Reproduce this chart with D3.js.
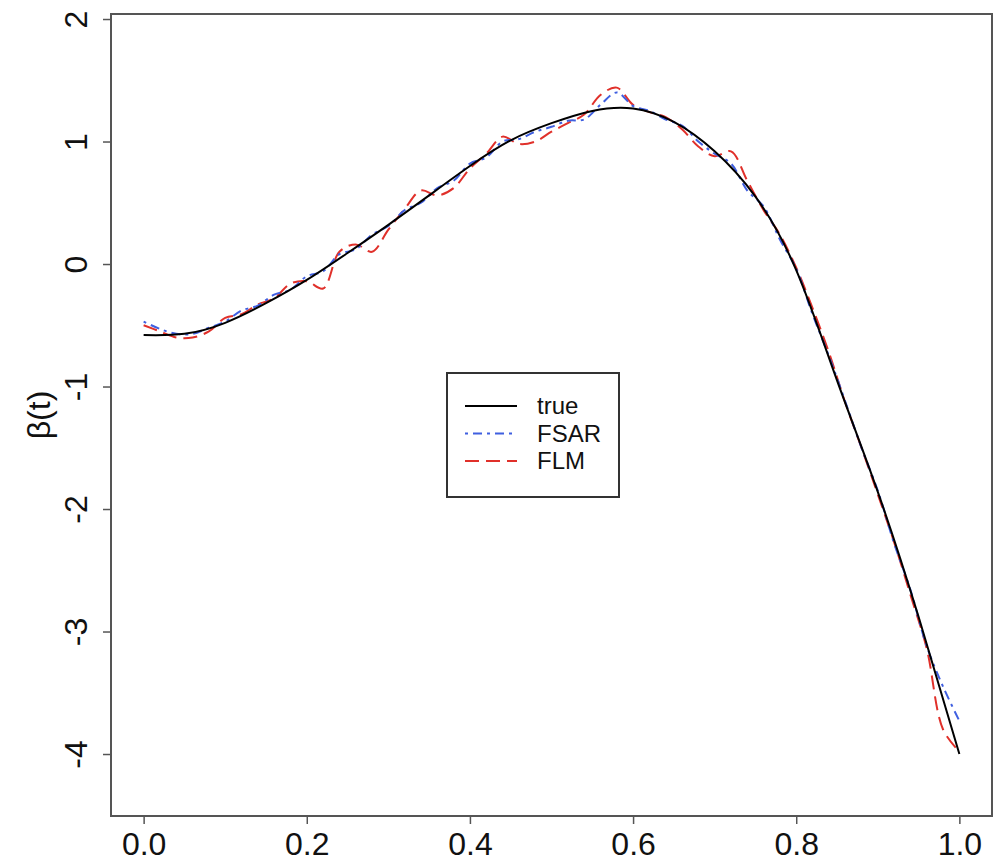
<!DOCTYPE html>
<html>
<head>
<meta charset="utf-8">
<script src="https://cdn.jsdelivr.net/npm/d3@7"></script>
<style>
  body { margin: 0; background: #fff; }
  svg { display: block; font-family: "Liberation Sans", Arial, sans-serif; }
</style>
</head>
<body>
<div id="chart"></div>
<script>
// true beta(t) at step 0.05
let tTrue = [0, 0.05, 0.10, 0.15, 0.20, 0.25, 0.30, 0.35, 0.40, 0.45, 0.50,
             0.55, 0.60, 0.65, 0.70, 0.75, 0.80, 0.85, 0.90, 0.95, 1.00];
let trueVals = [-0.58, -0.57, -0.48, -0.32, -0.13, 0.09, 0.32, 0.56, 0.80, 1.01, 1.15,
                1.25, 1.27, 1.16, 0.92, 0.55, -0.05, -0.95, -1.86, -2.88, -4.00];

// estimates, step 0.02
let tEst = [0, 0.02, 0.04, 0.06, 0.08, 0.10, 0.12, 0.14, 0.16, 0.18, 0.20,
            0.22, 0.24, 0.26, 0.28, 0.30, 0.32, 0.34, 0.36, 0.38, 0.40,
            0.42, 0.44, 0.46, 0.48, 0.50, 0.52, 0.54, 0.56, 0.58, 0.60,
            0.62, 0.64, 0.66, 0.68, 0.70, 0.72, 0.74, 0.76, 0.78, 0.80,
            0.82, 0.84, 0.86, 0.88, 0.90, 0.92, 0.94, 0.96, 0.98, 1.00];
let fsarVals = [-0.47, -0.53, -0.57, -0.57, -0.52, -0.47, -0.38, -0.34, -0.25, -0.21, -0.10,
                -0.06, 0.08, 0.12, 0.24, 0.31, 0.44, 0.50, 0.62, 0.68, 0.82,
                0.87, 1.00, 1.02, 1.08, 1.12, 1.17, 1.18, 1.30, 1.40, 1.29,
                1.25, 1.18, 1.13, 1.00, 0.90, 0.82, 0.60, 0.47, 0.20, -0.04,
                -0.41, -0.75, -1.12, -1.50, -1.85, -2.28, -2.66, -3.12, -3.45, -3.73];
let flmVals = [-0.50, -0.55, -0.60, -0.60, -0.55, -0.44, -0.41, -0.33, -0.28, -0.16, -0.14,
               -0.20, 0.10, 0.16, 0.10, 0.28, 0.45, 0.60, 0.56, 0.62, 0.78,
               0.90, 1.04, 0.98, 1.00, 1.08, 1.15, 1.22, 1.38, 1.44, 1.30,
               1.24, 1.20, 1.10, 0.96, 0.88, 0.92, 0.68, 0.44, 0.24, -0.03,
               -0.36, -0.72, -1.13, -1.50, -1.88, -2.27, -2.70, -3.14, -3.80, -3.98];

let xTicks = [0, 0.2, 0.4, 0.6, 0.8, 1.0];
let yTicks = [-4, -3, -2, -1, 0, 1, 2];

let seriesNames = ["true", "FSAR", "FLM"];
let seriesColors = ["#000000", "#3f5fe0", "#e0302a"];
let seriesDash = [null, "3,5,9,5", "14,7"];

let width = 1002, height = 868;
let plot = {left: 111, right: 992, top: 14, bottom: 816};

let svg = d3.select("#chart").append("svg")
    .attr("width", width)
    .attr("height", height);

svg.append("rect").attr("width", width).attr("height", height).attr("fill", "#fff");

let xScale = d3.scaleLinear().domain([-0.04, 1.04]).range([plot.left, plot.right]);
let yScale = d3.scaleLinear().domain([-4.506, 2.041]).range([plot.bottom, plot.top]);

// axes (R style: hyphen minus, labels parallel to the axis)
let xAxis = svg.append("g")
    .attr("transform", "translate(0," + plot.bottom + ")")
    .call(d3.axisBottom(xScale).tickValues(xTicks).tickFormat(d => d.toFixed(1)).tickSize(8).tickPadding(8));
xAxis.select(".domain").remove();
xAxis.selectAll("line").attr("stroke", "#555").attr("stroke-width", 1.5);
xAxis.selectAll("text").attr("font-size", 32).attr("fill", "#111")
    .attr("font-family", "Liberation Sans, Arial, sans-serif");

let yAxis = svg.append("g")
    .attr("transform", "translate(" + plot.left + ",0)")
    .call(d3.axisLeft(yScale).tickValues(yTicks).tickFormat(d => String(d)).tickSize(8));
yAxis.select(".domain").remove();
yAxis.selectAll("line").attr("stroke", "#555").attr("stroke-width", 1.5);
yAxis.selectAll("text")
    .attr("font-size", 32).attr("fill", "#111")
    .attr("font-family", "Liberation Sans, Arial, sans-serif")
    .attr("text-anchor", "middle")
    .attr("x", 0).attr("dy", 0)
    .attr("transform", "translate(-24,0) rotate(-90)");

svg.append("text")
    .attr("transform", "translate(50," + ((plot.top + plot.bottom) / 2) + ") rotate(-90)")
    .attr("text-anchor", "middle")
    .attr("font-size", 32)
    .attr("fill", "#111")
    .text("β(t)");

// curves
let wiggly = d3.line()
    .x(d => xScale(d[0]))
    .y(d => yScale(d[1]))
    .curve(d3.curveCatmullRom);
let smooth = d3.line()
    .x(d => xScale(d[0]))
    .y(d => yScale(d[1]))
    .curve(d3.curveNatural);

let series = [
    d3.zip(tTrue, trueVals),
    d3.zip(tEst, fsarVals),
    d3.zip(tEst, flmVals)
];

let drawOrder = [2, 1, 0];
drawOrder.forEach(i => {
    svg.append("path")
        .datum(series[i])
        .attr("fill", "none")
        .attr("stroke", seriesColors[i])
        .attr("stroke-width", 2)
        .attr("stroke-dasharray", seriesDash[i])
        .attr("d", i == 0 ? smooth : wiggly);
});

// box
svg.append("rect")
    .attr("x", plot.left).attr("y", plot.top)
    .attr("width", plot.right - plot.left).attr("height", plot.bottom - plot.top)
    .attr("fill", "none").attr("stroke", "#555").attr("stroke-width", 2);

// legend
let legend = svg.append("g");
legend.append("rect")
    .attr("x", 447).attr("y", 373).attr("width", 172).attr("height", 124)
    .attr("fill", "#fff").attr("stroke", "#333").attr("stroke-width", 2);

seriesNames.forEach((name, i) => {
    let yy = 406 + i * 27.5;
    legend.append("line")
        .attr("x1", 465).attr("x2", 517).attr("y1", yy).attr("y2", yy)
        .attr("stroke", seriesColors[i]).attr("stroke-width", 2)
        .attr("stroke-dasharray", seriesDash[i]);
    legend.append("text")
        .attr("x", 537).attr("y", yy).attr("dy", "0.35em")
        .attr("font-size", 24).attr("fill", "#111")
        .text(name);
});
</script>
</body>
</html>
